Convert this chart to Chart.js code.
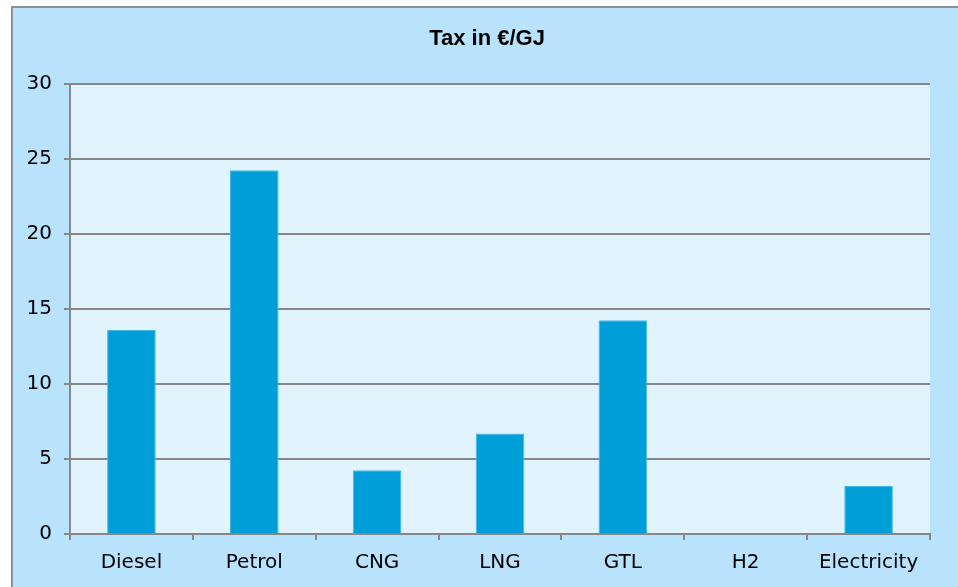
<!DOCTYPE html>
<html>
<head>
<meta charset="utf-8">
<script src="https://cdn.jsdelivr.net/npm/chart.js@4"></script>
<style>
  html, body { margin: 0; padding: 0; background: #ffffff; }
  #wrap { width: 958px; height: 587px; position: relative; }
</style>
</head>
<body>
<div id="wrap"><canvas id="chart1"></canvas></div>
<script>
// fuels on the x axis
const fuels = ["Diesel", "Petrol", "CNG", "LNG", "GTL", "H2", "Electricity"];
// tax in euro per GJ
const taxValues = [13.6, 24.25, 4.25, 6.7, 14.25, 0, 3.2];
const yTicks = [0, 5, 10, 15, 20, 25, 30];

const gridGray = "#878787";

// outer panel + plot background
const panelBg = {
  id: "panelBg",
  afterLayout(chart) {
    // title is centred on the whole panel, not only left of the right gap
    chart.titleBlock.left += 22;
    chart.titleBlock.right += 22;
  },
  beforeDraw(chart) {
    const ctx = chart.ctx;
    const a = chart.chartArea;
    ctx.save();
    ctx.fillStyle = "#ffffff";
    ctx.fillRect(0, 0, chart.width, chart.height);
    ctx.fillStyle = "#b9e3fd";
    ctx.fillRect(11, 6, chart.width - 11, chart.height - 6);
    ctx.strokeStyle = "#8c9096";
    ctx.lineWidth = 2;
    ctx.beginPath();
    ctx.moveTo(12, chart.height);
    ctx.lineTo(12, 7);
    ctx.lineTo(chart.width, 7);
    ctx.stroke();
    ctx.fillStyle = "#e1f3fd";
    ctx.fillRect(a.left, a.top, a.right - a.left, a.bottom - a.top);
    ctx.restore();
  }
};

const chart1 = () => {
  const canvas = document.getElementById("chart1");
  const ctx = canvas.getContext("2d");

  new Chart(ctx, {
    type: "bar",
    data: {
      labels: fuels,
      datasets: [
        {
          label: "Tax in €/GJ",
          data: taxValues,
          backgroundColor: "#009ed8",
          borderColor: "#45bbe8",
          borderWidth: 1,
          categoryPercentage: 1,
          barPercentage: 0.396
        }
      ]
    },
    options: {
      responsive: true,
      maintainAspectRatio: false,
      animation: false,
      layout: {
        padding: { left: 0, right: 28, top: 0, bottom: 0 }
      },
      plugins: {
        legend: { display: false },
        tooltip: { enabled: false },
        title: {
          display: true,
          text: "Tax in €/GJ",
          color: "#000000",
          font: { family: "'Liberation Sans', Arial, sans-serif", size: 22, weight: "bold" },
          padding: { top: 26, bottom: 31.6 }
        }
      },
      scales: {
        x: {
          afterFit(scale) { scale.height = 53; },
          grid: {
            offset: true,
            drawOnChartArea: false,
            drawTicks: true,
            tickLength: 6,
            color: gridGray,
            lineWidth: 2
          },
          border: { display: true, color: gridGray, width: 2 },
          ticks: {
            color: "#000000",
            padding: 11,
            maxRotation: 0,
            font: { family: "'DejaVu Sans', sans-serif", size: 20 }
          }
        },
        y: {
          min: 0,
          max: 30,
          afterFit(scale) { scale.width = 70; },
          afterBuildTicks(scale) {
            scale.ticks = yTicks.map((v) => ({ value: v }));
          },
          grid: {
            drawTicks: true,
            tickLength: 6,
            color: gridGray,
            lineWidth: 2
          },
          border: { display: true, color: gridGray, width: 2 },
          ticks: {
            color: "#000000",
            padding: 12,
            font: { family: "'DejaVu Sans', sans-serif", size: 20 }
          }
        }
      }
    },
    plugins: [panelBg]
  });
};

(function () {
  chart1();
})();
</script>
</body>
</html>
